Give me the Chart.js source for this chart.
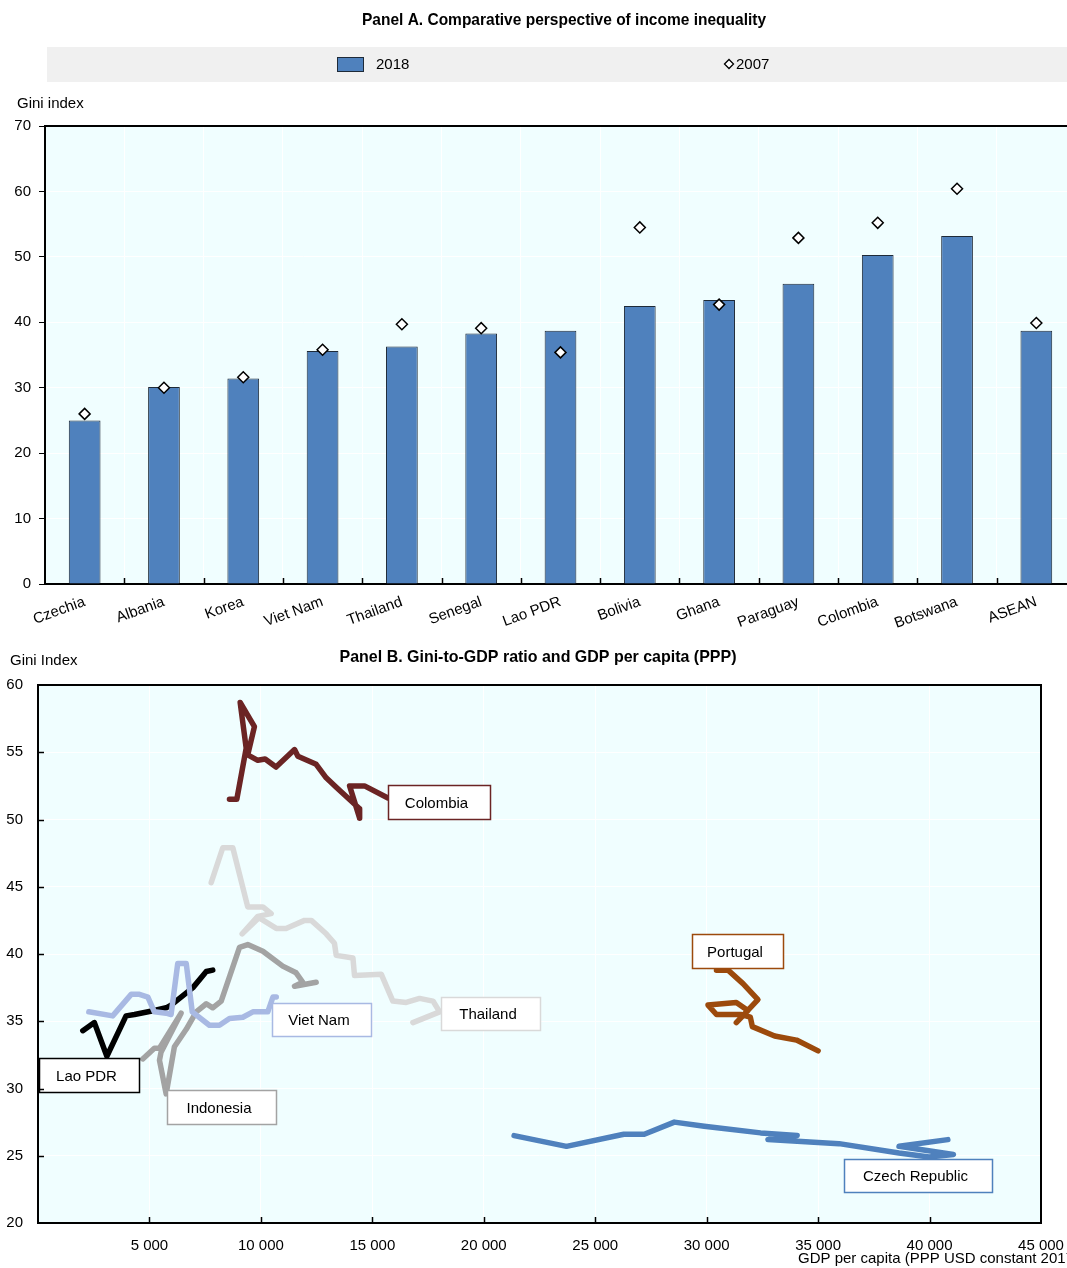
<!DOCTYPE html>
<html>
<head>
<meta charset="utf-8">
<title>Income inequality</title>
<script src="https://cdn.jsdelivr.net/npm/chart.js@4.4.1/dist/chart.umd.min.js"></script>
<style>
  html, body { margin: 0; padding: 0; background: #ffffff; }
  #wrap { position: relative; width: 1067px; height: 1268px; overflow: hidden; }
  #panelA { position: absolute; left: 0; top: 0; }
  #panelB { position: absolute; left: 0; top: 640px; }
</style>
</head>
<body>
<div id="wrap">
  <canvas id="panelA" width="1076" height="640"></canvas>
  <canvas id="panelB" width="1067" height="628"></canvas>
</div>
<script>
// ---------- Panel A data: Gini index by country ----------
const countries = ['Czechia', 'Albania', 'Korea', 'Viet Nam', 'Thailand', 'Senegal', 'Lao PDR',
  'Bolivia', 'Ghana', 'Paraguay', 'Colombia', 'Botswana', 'ASEAN'];
const gini2018 = [25.0, 30.1, 31.4, 35.6, 36.3, 38.3, 38.7, 42.5, 43.4, 45.9, 50.3, 53.2, 38.7];
const gini2007 = [26.0, 30.0, 31.6, 35.8, 39.7, 39.1, 35.4, 54.5, 42.7, 52.9, 55.2, 60.4, 39.9];
const giniTicksA = [0, 10, 20, 30, 40, 50, 60, 70];

// ---------- Panel B data: Gini index against GDP per capita over time ----------
const colombiaGdp = [8590, 8920, 9340, 9070, 9710, 9410, 9860, 10190, 10680, 11510, 11660, 12480, 12930, 13380, 14430, 14430, 13980, 14650, 15700];
const colombiaGini = [51.5, 51.5, 55.3, 58.7, 56.9, 54.8, 54.4, 54.5, 53.9, 55.2, 54.7, 54.1, 53.1, 52.4, 50.8, 50.1, 52.5, 52.5, 51.6];

const thailandGdp = [7770, 8290, 8740, 9410, 10090, 10460, 9860, 9160, 9910, 10690, 11130, 11960, 12260, 12930, 13300, 13380, 14130, 14200, 15400, 15920, 16520, 17120, 17720, 18020, 16820];
const thailandGini = [45.3, 47.9, 47.9, 43.5, 43.5, 43.0, 42.8, 41.5, 42.7, 41.9, 41.9, 42.5, 42.5, 41.5, 40.8, 39.9, 39.7, 38.4, 38.5, 36.5, 36.4, 36.7, 36.5, 35.7, 34.9];

const indonesiaGdp = [4700, 5220, 5450, 6420, 5520, 5450, 5750, 6120, 6650, 7100, 7550, 7840, 8220, 8590, 9040, 9410, 10090, 10980, 11580, 11880, 11510, 12480];
const indonesiaGini = [32.2, 33.0, 33.0, 35.6, 32.7, 32.1, 29.6, 33.1, 34.4, 35.7, 36.3, 36.0, 36.5, 38.3, 40.5, 40.7, 40.2, 39.1, 38.6, 37.9, 37.6, 37.9];

const vietNamGdp = [2280, 3350, 4180, 4550, 4930, 5220, 5750, 5970, 6270, 6650, 6920, 7690, 8140, 8590, 9190, 9640, 10310, 10540, 10690];
const vietNamGini = [35.7, 35.4, 37.0, 37.0, 36.8, 35.7, 35.6, 35.5, 39.3, 39.3, 35.7, 34.7, 34.7, 35.2, 35.3, 35.7, 35.7, 36.8, 36.8];

const laoGdp = [2010, 2530, 3090, 3950, 4330, 5220, 5750, 5970, 6950, 7550, 7840];
const laoGini = [34.3, 34.9, 32.4, 35.4, 35.5, 35.8, 36.0, 36.2, 37.5, 38.7, 38.8];

const portugalGdp = [30440, 30960, 31630, 32300, 31330, 31850, 31330, 30060, 30440, 31560, 31960, 32050, 33050, 34030, 35000];
const portugalGini = [38.8, 38.8, 37.8, 36.6, 34.9, 35.8, 36.4, 36.2, 35.5, 35.5, 35.3, 34.6, 33.9, 33.6, 32.8];

const czechGdp = [21360, 23710, 26280, 27200, 28550, 29890, 32420, 34060, 32750, 35940, 38630, 39980, 41070, 38630, 40820];
const czechGini = [26.5, 25.7, 26.6, 26.6, 27.5, 27.2, 26.7, 26.5, 26.2, 25.9, 25.2, 24.9, 25.1, 25.7, 26.2];

const gdpTicks = [0, 5000, 10000, 15000, 20000, 25000, 30000, 35000, 40000, 45000];
const giniTicksB = [20, 25, 30, 35, 40, 45, 50, 55, 60];

// ---------- styling ----------
const FONT_REG = "'Liberation Sans', Arial, sans-serif";
const PLOT_BG = '#f0feff';
const LEGEND_BG = '#f0f0f0';
const BAR_BLUE = '#4f81bd';

const lineColors = {
  colombia: '#6b2424',
  thailand: '#d9d9d9',
  indonesia: '#a3a3a3',
  vietNam: '#a8b9e3',
  lao: '#000000',
  portugal: '#9c4a0c',
  czech: '#4f81bd'
};

const spaced = v => String(v).replace(/\B(?=(\d{3})+(?!\d))/g, ' ');
const pairs = (xs, ys) => xs.map((x, i) => ({ x: x, y: ys[i] }));

// bold heading drawn slightly condensed, centred on cx
function drawHeading(ctx, text, cx, cy, squeeze) {
  ctx.save();
  ctx.font = 'bold 17px ' + FONT_REG;
  ctx.fillStyle = '#000';
  ctx.textAlign = 'center';
  ctx.textBaseline = 'middle';
  ctx.translate(cx, cy);
  ctx.scale(squeeze, 1);
  ctx.fillText(text, 0, 0);
  ctx.restore();
}

// ---------- Panel A ----------
const panelADecor = {
  id: 'panelADecor',
  beforeDraw(chart) {
    const { ctx, chartArea: a } = chart;
    ctx.save();
    ctx.fillStyle = PLOT_BG;
    ctx.fillRect(a.left, a.top, chart.width - a.left, a.bottom - a.top);

    drawHeading(ctx, 'Panel A. Comparative perspective of income inequality', 564, 20, 0.912);

    // legend band
    ctx.fillStyle = LEGEND_BG;
    ctx.fillRect(a.left + 2, 47, chart.width - a.left - 2, 35);

    const barDs = chart.data.datasets[1];
    const ptDs = chart.data.datasets[0];
    ctx.fillStyle = barDs.backgroundColor;
    ctx.fillRect(337, 57, 26, 14);
    ctx.strokeStyle = barDs.borderColor;
    ctx.lineWidth = 1;
    ctx.strokeRect(337.5, 57.5, 26, 14);
    ctx.fillStyle = '#000';
    ctx.font = '15px ' + FONT_REG;
    ctx.textAlign = 'left';
    ctx.textBaseline = 'middle';
    ctx.fillText(barDs.label, 376, 65);

    ctx.fillStyle = ptDs.pointBackgroundColor;
    ctx.strokeStyle = ptDs.pointBorderColor;
    ctx.lineWidth = 1.3;
    Chart.helpers.drawPoint(ctx, { pointStyle: 'rectRot', radius: 4.5, borderWidth: 1.3 }, 729, 64);
    ctx.fillStyle = '#000';
    ctx.fillText(ptDs.label, 736, 65);

    // axis caption
    ctx.fillText('Gini index', 17, 104);
    ctx.restore();
  },
  afterDraw(chart) {
    const { ctx, chartArea: a, scales } = chart;
    ctx.save();
    ctx.strokeStyle = '#000';
    ctx.lineWidth = 2;
    ctx.beginPath();
    ctx.moveTo(a.left - 1, a.top);
    ctx.lineTo(chart.width, a.top);
    ctx.stroke();
    // small inward tick marks between categories
    ctx.lineWidth = 1.5;
    const xs = scales.x;
    for (let i = 1; i < countries.length; i++) {
      const px = Math.round((xs.getPixelForValue(i - 1) + xs.getPixelForValue(i)) / 2) + 0.5;
      ctx.beginPath();
      ctx.moveTo(px, a.bottom);
      ctx.lineTo(px, a.bottom - 6);
      ctx.stroke();
    }
    ctx.restore();
  }
};

new Chart(document.getElementById('panelA'), {
  type: 'bar',
  data: {
    labels: countries,
    datasets: [
      {
        type: 'line',
        label: '2007',
        data: gini2007,
        showLine: false,
        pointStyle: 'rectRot',
        pointRadius: 5.5,
        pointBackgroundColor: '#ffffff',
        pointBorderColor: '#000000',
        pointBorderWidth: 1.5,
        order: 0
      },
      {
        type: 'bar',
        label: '2018',
        data: gini2018,
        backgroundColor: BAR_BLUE,
        borderColor: '#1e2a38',
        borderWidth: 1,
        barPercentage: 0.4,
        categoryPercentage: 1,
        order: 1
      }
    ]
  },
  options: {
    responsive: false,
    animation: false,
    events: [],
    layout: { autoPadding: false, padding: { top: 126, left: 0, right: 0, bottom: 0 } },
    plugins: { legend: { display: false }, title: { display: false }, tooltip: { enabled: false } },
    scales: {
      x: {
        offset: true,
        grid: { offset: true, color: '#ffffff', lineWidth: 1, drawTicks: false },
        border: { display: true, color: '#000', width: 2 },
        ticks: {
          autoSkip: false, minRotation: 20, maxRotation: 20, padding: 9,
          color: '#000', font: { family: FONT_REG, size: 15 }
        },
        afterFit(s) { s.height = 56; s.paddingLeft = 0; s.paddingRight = 0; }
      },
      y: {
        min: 0, max: 70,
        afterBuildTicks(s) { s.ticks = giniTicksA.map(v => ({ value: v })); },
        grid: { color: '#ffffff', lineWidth: 1, drawTicks: true, tickLength: 6, tickColor: '#000' },
        border: { display: true, color: '#000', width: 2 },
        ticks: { color: '#000', padding: 8, font: { family: FONT_REG, size: 15 } },
        afterFit(s) { s.width = 45; s.paddingTop = 0; s.paddingBottom = 0; }
      }
    }
  },
  plugins: [panelADecor]
});

// ---------- Panel B ----------
const labelBoxes = [
  { text: 'Colombia', color: lineColors.colombia, x0: 15690, x1: 20260, y0: 52.57, y1: 50.04 },
  { text: 'Portugal', color: lineColors.portugal, x0: 29330, x1: 33420, y0: 41.49, y1: 38.96 },
  { text: 'Thailand', color: lineColors.thailand, x0: 18060, x1: 22510, y0: 36.80, y1: 34.35 },
  { text: 'Viet Nam', color: lineColors.vietNam, x0: 10480, x1: 14920, y0: 36.36, y1: 33.90 },
  { text: 'Lao PDR', color: lineColors.lao, x0: 60, x1: 4550, y0: 32.27, y1: 29.74 },
  { text: 'Indonesia', color: lineColors.indonesia, x0: 5810, x1: 10660, y0: 29.89, y1: 27.36 },
  { text: 'Czech Republic', color: lineColors.czech, x0: 36160, x1: 42800, y0: 24.76, y1: 22.30 }
];

const panelBDecor = {
  id: 'panelBDecor',
  beforeDraw(chart) {
    const { ctx, chartArea: a } = chart;
    ctx.save();
    ctx.fillStyle = PLOT_BG;
    ctx.fillRect(a.left, a.top, a.right - a.left, a.bottom - a.top);
    drawHeading(ctx, 'Panel B. Gini-to-GDP ratio and GDP per capita (PPP)', 538, 17, 0.94);
    ctx.fillStyle = '#000';
    ctx.font = '15px ' + FONT_REG;
    ctx.textAlign = 'left';
    ctx.textBaseline = 'middle';
    ctx.fillText('Gini Index', 10, 21);
    ctx.restore();
  },
  afterDatasetsDraw(chart) {
    const { ctx, scales: { x, y } } = chart;
    ctx.save();
    ctx.font = '15px ' + FONT_REG;
    ctx.textAlign = 'center';
    ctx.textBaseline = 'middle';
    labelBoxes.forEach(b => {
      const l = Math.round(x.getPixelForValue(b.x0)) + 0.5;
      const r = Math.round(x.getPixelForValue(b.x1)) + 0.5;
      const t = Math.round(y.getPixelForValue(b.y0)) + 0.5;
      const btm = Math.round(y.getPixelForValue(b.y1)) + 0.5;
      ctx.fillStyle = '#ffffff';
      ctx.fillRect(l, t, r - l, btm - t);
      ctx.strokeStyle = b.color;
      ctx.lineWidth = 1.5;
      ctx.strokeRect(l, t, r - l, btm - t);
      ctx.fillStyle = '#000';
      ctx.fillText(b.text, (l + r) / 2 - 3, (t + btm) / 2 + 1);
    });
    ctx.restore();
  },
  afterDraw(chart) {
    const { ctx, chartArea: a, scales: { x, y } } = chart;
    ctx.save();
    ctx.strokeStyle = '#000';
    ctx.lineWidth = 2;
    ctx.strokeRect(a.left, a.top, a.right - a.left, a.bottom - a.top);
    ctx.lineWidth = 1.5;
    gdpTicks.slice(1, -1).forEach(v => {
      const px = Math.round(x.getPixelForValue(v)) + 0.5;
      ctx.beginPath();
      ctx.moveTo(px, a.bottom);
      ctx.lineTo(px, a.bottom - 6);
      ctx.stroke();
    });
    giniTicksB.slice(1, -1).forEach(v => {
      const py = Math.round(y.getPixelForValue(v)) + 0.5;
      ctx.beginPath();
      ctx.moveTo(a.left, py);
      ctx.lineTo(a.left + 6, py);
      ctx.stroke();
    });
    ctx.fillStyle = '#000';
    ctx.font = '15px ' + FONT_REG;
    ctx.textAlign = 'left';
    ctx.textBaseline = 'middle';
    ctx.fillText('GDP per capita (PPP USD constant 2017)', 798, 619);
    ctx.restore();
  }
};

const lineSeries = (label, xs, ys, color) => ({
  label: label,
  data: pairs(xs, ys),
  showLine: true,
  borderColor: color,
  backgroundColor: color,
  borderWidth: 5.5,
  borderJoinStyle: 'round',
  borderCapStyle: 'round',
  pointRadius: 0,
  tension: 0
});

new Chart(document.getElementById('panelB'), {
  type: 'scatter',
  data: {
    datasets: [
      lineSeries('Czech Republic', czechGdp, czechGini, lineColors.czech),
      lineSeries('Portugal', portugalGdp, portugalGini, lineColors.portugal),
      lineSeries('Colombia', colombiaGdp, colombiaGini, lineColors.colombia),
      lineSeries('Viet Nam', vietNamGdp, vietNamGini, lineColors.vietNam),
      lineSeries('Lao PDR', laoGdp, laoGini, lineColors.lao),
      lineSeries('Indonesia', indonesiaGdp, indonesiaGini, lineColors.indonesia),
      lineSeries('Thailand', thailandGdp, thailandGini, lineColors.thailand)
    ]
  },
  options: {
    responsive: false,
    animation: false,
    events: [],
    layout: { padding: { top: 45, left: 0, right: 26, bottom: 0 } },
    plugins: { legend: { display: false }, title: { display: false }, tooltip: { enabled: false } },
    scales: {
      x: {
        type: 'linear', min: 0, max: 45000,
        afterBuildTicks(s) { s.ticks = gdpTicks.map(v => ({ value: v })); },
        grid: { color: '#ffffff', lineWidth: 1, drawTicks: false },
        border: { display: false },
        ticks: {
          color: '#000', padding: 14, font: { family: FONT_REG, size: 15 },
          maxRotation: 0, autoSkip: false,
          callback: v => (v === 0 ? '' : spaced(v))
        },
        afterFit(s) { s.height = 45; s.paddingLeft = 0; s.paddingRight = 0; }
      },
      y: {
        type: 'linear', min: 20, max: 60,
        afterBuildTicks(s) { s.ticks = giniTicksB.map(v => ({ value: v })); },
        grid: { color: '#ffffff', lineWidth: 1, drawTicks: false },
        border: { display: false },
        ticks: { color: '#000', padding: 15, font: { family: FONT_REG, size: 15 } },
        afterFit(s) { s.width = 38; s.paddingTop = 0; s.paddingBottom = 0; }
      }
    }
  },
  plugins: [panelBDecor]
});
</script>
</body>
</html>
